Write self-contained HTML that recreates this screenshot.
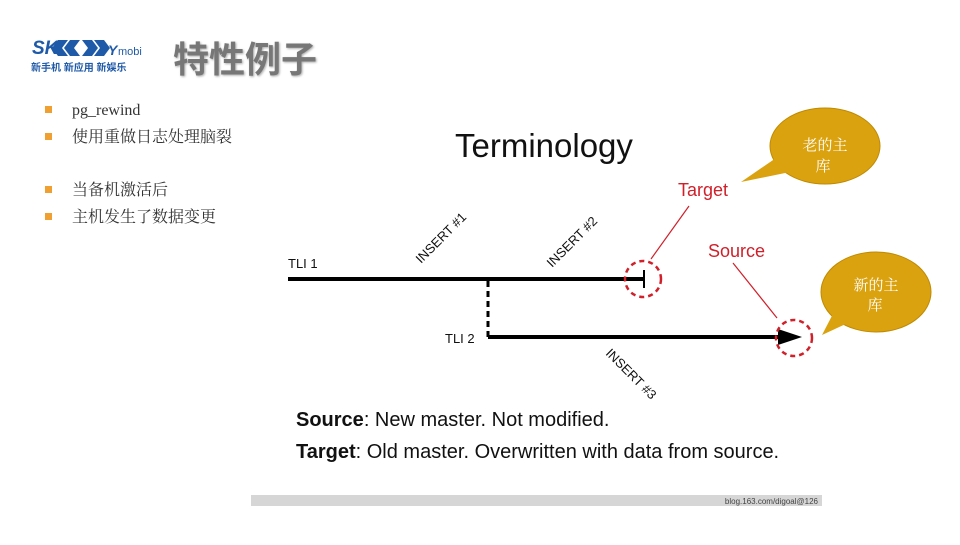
<!DOCTYPE html>
<html><head><meta charset="utf-8"><style>
body{margin:0;width:960px;height:540px;background:#fff;overflow:hidden;font-family:"Liberation Sans","Noto Sans CJK SC",sans-serif}
</style></head><body>
<svg width="960" height="540" viewBox="0 0 960 540" xmlns="http://www.w3.org/2000/svg">
<text x="32" y="54" font-family="Liberation Sans,sans-serif" font-size="19" font-weight="bold" fill="#1f5aa8" font-style="italic">SK</text>
<path d="M58 40 L68 40 L62 48 L68 56 L58 56 L52 48Z M70 40 L80 40 L74 48 L80 56 L70 56 L64 48Z" fill="#1f5aa8"/>
<path d="M82 40 L92 40 L98 48 L92 56 L82 56 L88 48Z M94 40 L104 40 L110 48 L104 56 L94 56 L100 48Z" fill="#1f5aa8"/>
<text x="108" y="55" font-size="14" font-weight="bold" fill="#1f5aa8" font-style="italic">Y</text>
<text x="118" y="55" font-size="11" fill="#1f5aa8">mobi</text>
<text x="31" y="71" font-family="Liberation Sans,'Noto Sans CJK SC',sans-serif" font-size="10" font-weight="bold" fill="#1f5aa8">新手机 新应用 新娱乐</text>
<text x="173" y="72" font-family="'Noto Sans CJK SC',sans-serif" font-size="36" font-weight="bold" fill="#777" style="filter:drop-shadow(1px 1px 1px #aaa)">特性例子</text>
<g fill="#f0a030"><rect x="45" y="106" width="7" height="7"/><rect x="45" y="133" width="7" height="7"/><rect x="45" y="186" width="7" height="7"/><rect x="45" y="213" width="7" height="7"/></g>
<g font-family="'Liberation Serif','Noto Serif CJK SC',serif" font-size="16" fill="#333">
<text x="72" y="115">pg_rewind</text><text x="72" y="142">使用重做日志处理脑裂</text>
<text x="72" y="195">当备机激活后</text><text x="72" y="222">主机发生了数据变更</text></g>
<text x="455" y="157" font-size="33" fill="#111">Terminology</text>
<ellipse cx="825" cy="146" rx="55" ry="38" fill="#dba20f" stroke="#c08a00"/>
<path d="M776 158 L741 182 L790 172Z" fill="#dba20f"/>
<text x="825" y="150" text-anchor="middle" font-family="'Noto Serif CJK SC',serif" font-size="15" fill="#fff">老的主</text>
<text x="823" y="171" text-anchor="middle" font-family="'Noto Serif CJK SC',serif" font-size="15" fill="#fff">库</text>
<ellipse cx="876" cy="292" rx="55" ry="40" fill="#dba20f" stroke="#c08a00"/>
<path d="M835 310 L822 335 L850 322Z" fill="#dba20f"/>
<text x="876" y="290" text-anchor="middle" font-family="'Noto Serif CJK SC',serif" font-size="15" fill="#fff">新的主</text>
<text x="875" y="310" text-anchor="middle" font-family="'Noto Serif CJK SC',serif" font-size="15" fill="#fff">库</text>
<text x="288" y="268" font-size="13" fill="#111">TLI 1</text>
<line x1="288" y1="279" x2="643" y2="279" stroke="#000" stroke-width="4"/>
<line x1="644" y1="270" x2="644" y2="288" stroke="#000" stroke-width="2"/>
<line x1="488" y1="281" x2="488" y2="337" stroke="#000" stroke-width="3" stroke-dasharray="6,4"/>
<text x="445" y="343" font-size="13" fill="#111">TLI 2</text>
<line x1="488" y1="337" x2="785" y2="337" stroke="#000" stroke-width="4"/>
<path d="M778 329 L802 337 L778 345Z" fill="#000"/>
<circle cx="643" cy="279" r="18" fill="none" stroke="#d0202a" stroke-width="2.5" stroke-dasharray="5,4"/>
<circle cx="794" cy="338" r="18" fill="none" stroke="#d0202a" stroke-width="2.5" stroke-dasharray="5,4"/>
<text x="678" y="196" font-size="18" fill="#d0202a">Target</text>
<line x1="689" y1="206" x2="651" y2="259" stroke="#d0202a" stroke-width="1.2"/>
<text x="708" y="257" font-size="18" fill="#d0202a">Source</text>
<line x1="733" y1="263" x2="777" y2="318" stroke="#d0202a" stroke-width="1.2"/>
<text transform="translate(421,264) rotate(-45)" font-size="13" fill="#111">INSERT #1</text>
<text transform="translate(552,268) rotate(-45)" font-size="13" fill="#111">INSERT  #2</text>
<text transform="translate(605,354) rotate(45)" font-size="13" fill="#111">INSERT  #3</text>
<text x="296" y="426" font-size="20" fill="#111"><tspan font-weight="bold">Source</tspan>: New master. Not modified.</text>
<text x="296" y="458" font-size="20" fill="#111"><tspan font-weight="bold">Target</tspan>: Old master. Overwritten with data from source.</text>
<rect x="251" y="495" width="571" height="11" fill="#d6d6d6"/>
<text x="818" y="504" text-anchor="end" font-size="8" fill="#444">blog.163.com/digoal@126</text>
</svg>
</body></html>
